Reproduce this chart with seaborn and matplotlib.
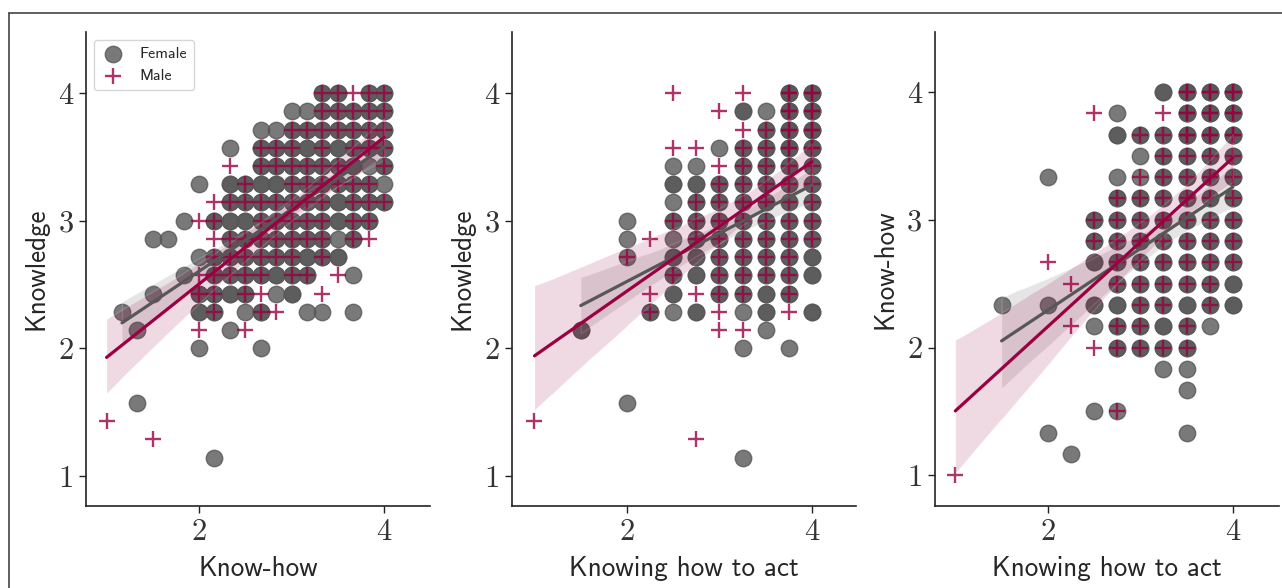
import os
import numpy as np
import pandas as pd
import matplotlib
matplotlib.use("Agg")
import matplotlib.pyplot as plt
from matplotlib import font_manager
from matplotlib.lines import Line2D
import seaborn as sns

# ---------------- data ----------------
# grid levels of the answer scales
know_how_levels = [1.0, 1.167, 1.333, 1.5, 1.667, 1.833, 2.0, 2.167, 2.333, 2.5,
                   2.667, 2.833, 3.0, 3.167, 3.333, 3.5, 3.667, 3.833, 4.0]
knowledge_levels = [4.0, 3.857, 3.714, 3.571, 3.429, 3.286, 3.143, 3.0, 2.857, 2.714,
                    2.571, 2.429, 2.286, 2.143, 2.0, 1.857, 1.714, 1.571, 1.429, 1.286, 1.143]
act_levels = [1.0, 1.25, 1.5, 1.75, 2.0, 2.25, 2.5, 2.75, 3.0, 3.25, 3.5, 3.75, 4.0]
know_how_rows = [4.0, 3.833, 3.667, 3.5, 3.333, 3.167, 3.0, 2.833, 2.667, 2.5,
                 2.333, 2.167, 2.0, 1.833, 1.667, 1.5, 1.333, 1.167, 1.0]

# cell codes: '.' empty, 'f' one female, 'F' two females, 'm' one male,
# 'c' one female + one male, 'b' two females + one male, 'B' three females + two males
panel1_grid = [  # rows: knowledge (top->bottom), cols: know-how
    "..............bbmbb",
    "............ffbbbbb",
    "..........ffbbbbbbb",
    "........f.bbbFbFbbb",
    "........m.bbbbbbFfb",
    "......f.FbFFbbbbbbf",
    ".......mbbbbbbbFbbb",
    ".....fmbFFbbbbbFbb.",
    "...ff..mbbbbbbbfbm.",
    "......fbbbbbbFbF...",
    ".....fmbbbbFbb.mf..",
    "...f..bbFbmfF.m....",
    ".f....Fb.fbm.ff.f..",
    "..f...m.fm.........",
    "......f...f........",
    "...................",
    "...................",
    "..f................",
    "m..................",
    "...m...............",
    ".......f...........",
]
panel2_grid = [  # rows: knowledge, cols: knowing how to act
    "......m..m.BB",
    "........mFfBB",
    ".........mbBB",
    "......mmfbbBB",
    "......ffmbbbb",
    "......FFbbbbb",
    "......fbbbbbb",
    "....f.bbbbbbb",
    "....fmfbbbbbb",
    "....c.FFbbbbF",
    "......bFbbbbF",
    ".....mFmbbFb.",
    ".....bfFmfFmF",
    "..F.....mmf..",
    ".........f.f.",
    ".............",
    ".............",
    "....f........",
    "m............",
    ".......m.....",
    ".........f...",
]
panel3_grid = [  # rows: know-how, cols: knowing how to act
    ".........FBBB",
    "......mf.mBBB",
    ".......FbbBBB",
    "........fbbbb",
    "....f..fcbbbb",
    ".......bbbbbb",
    "......bbbbbbb",
    "......bbbbbbb",
    "....m.Fbbbbbb",
    ".....m.bbbbbF",
    "..f.f.FFbbFbF",
    ".....mfbbFbf.",
    "......mbbbb..",
    ".........ff..",
    "..........f..",
    "......fc.....",
    "....f.....f..",
    ".....f.......",
    "m............",
]

x_labels = ["Know-how", "Knowing how to act", "Knowing how to act"]
y_labels = ["Knowledge", "Knowledge", "Know-how"]
sex_levels = ["Female", "Male"]

CODES = {'.': (0, 0), 'f': (1, 0), 'F': (2, 0), 'm': (0, 1), 'c': (1, 1),
         'b': (2, 1), 'B': (3, 2)}


def expand(grid, xs, ys):
    rows = []
    for yv, line in zip(ys, grid):
        for xv, ch in zip(xs, line):
            nf, nm = CODES[ch]
            rows += [(xv, yv, "Female")] * nf + [(xv, yv, "Male")] * nm
    return pd.DataFrame(rows, columns=["x", "y", "sex"])


frames = [expand(panel1_grid, know_how_levels, knowledge_levels),
          expand(panel2_grid, act_levels, knowledge_levels),
          expand(panel3_grid, act_levels, know_how_rows)]

# ---------------- style ----------------
sns.set_style("ticks")
mpl_fonts = os.path.join(matplotlib.get_data_path(), "fonts", "ttf")
cmss_path = os.path.join(mpl_fonts, "cmss10.ttf")
cmr_path = os.path.join(mpl_fonts, "cmr10.ttf")
font_manager.fontManager.addfont(cmss_path)
font_manager.fontManager.addfont(cmr_path)
cmss = font_manager.FontProperties(fname=cmss_path)
cmr = font_manager.FontProperties(fname=cmr_path)

female_color = "#575757"
male_color = "#9a0042"
styles = {"Female": dict(color=female_color, marker="o", s=140, lw=None),
          "Male": dict(color=male_color, marker="+", s=120, lw=1.7)}

W, H = 1282, 588
fig = plt.figure(figsize=(W / 100, H / 100), dpi=100)

axes_px = [(86, 430), (512, 856), (935, 1279)]
top_px, bottom_px = 32, 506
xlims = [(0.778, 4.497), (0.757, 4.476), (0.78, 4.50)]
ylims = [(0.765, 4.478), (0.765, 4.478), (0.76, 4.47)]

for i, df in enumerate(frames):
    l, r = axes_px[i]
    ax = fig.add_axes([l / W, 1 - bottom_px / H, (r - l) / W, (bottom_px - top_px) / H])
    for sex in sex_levels:
        st = styles[sex]
        sub = df[df["sex"] == sex]
        skw = dict(s=st["s"])
        if st["lw"]:
            skw["linewidths"] = st["lw"]
        sns.regplot(data=sub, x="x", y="y", ax=ax, color=st["color"], marker=st["marker"],
                    scatter_kws=skw, line_kws=dict(lw=2.3), seed=3, label=sex)
    ax.set_xlim(*xlims[i])
    ax.set_ylim(*ylims[i])
    ax.set_xticks([2, 4])
    ax.set_yticks([1, 2, 3, 4])
    ax.set_xticklabels(["2", "4"], fontproperties=cmr, fontsize=22)
    ax.set_yticklabels(["1", "2", "3", "4"], fontproperties=cmr, fontsize=22)
    ax.tick_params(length=5, width=1, colors="#222222", labelcolor="#333333", pad=4)
    ax.set_xlabel(x_labels[i], fontproperties=cmss, fontsize=19.5, labelpad=7)
    ax.set_ylabel(y_labels[i], fontproperties=cmss, fontsize=19.5, labelpad=7)
    sns.despine(ax=ax)
    for sp in ("left", "bottom"):
        ax.spines[sp].set_color("#222222")
        ax.spines[sp].set_linewidth(1.2)
    if i == 0:
        leg = ax.legend(loc="upper left", bbox_to_anchor=(0.023, 0.983), borderaxespad=0,
                        frameon=True, prop=font_manager.FontProperties(fname=cmss_path, size=11.5),
                        handlelength=1.5, handletextpad=0.9, borderpad=0.45, labelspacing=0.45)
        leg.get_frame().set_edgecolor("#cccccc")

# outer frame of the figure crop
fig.add_artist(Line2D([9 / W, 1.0], [1 - 13 / H, 1 - 13 / H], color="#444444", lw=1.2,
                      transform=fig.transFigure))
fig.add_artist(Line2D([9 / W, 9 / W], [0, 1 - 13 / H], color="#444444", lw=1.2,
                      transform=fig.transFigure))

fig.savefig("out.png", dpi=100)
